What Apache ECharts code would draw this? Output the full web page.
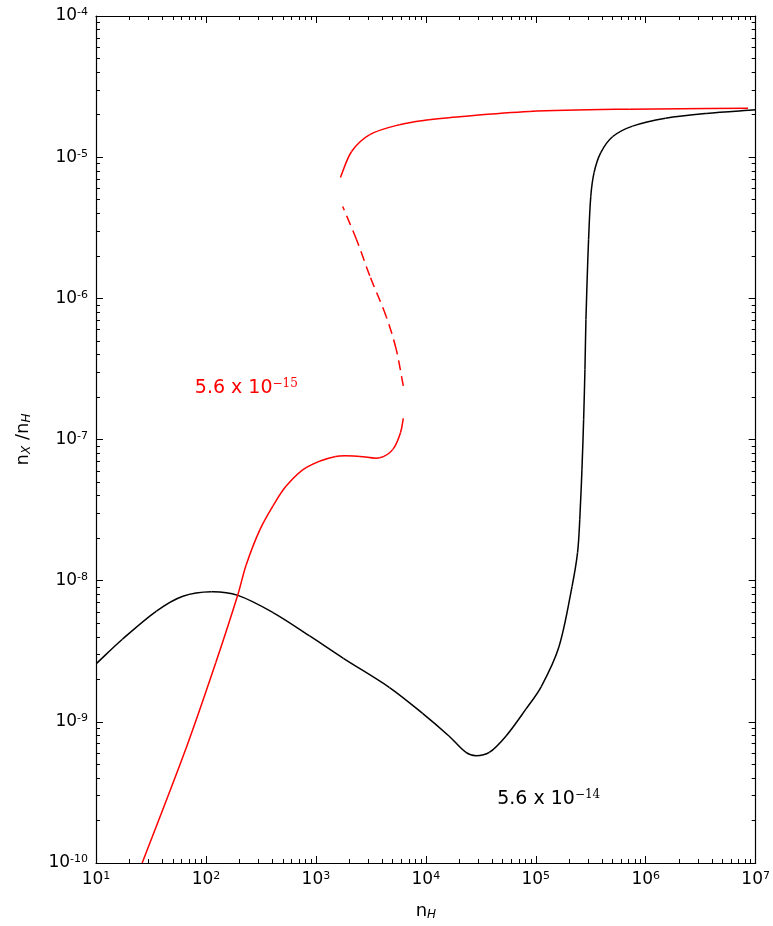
<!DOCTYPE html>
<html><head><meta charset="utf-8">
<script src="https://cdn.jsdelivr.net/npm/echarts@6/dist/echarts.min.js"></script>
<style>html,body{margin:0;padding:0;background:#fff}#c{width:773px;height:926px}</style>
</head><body><div id="c"></div>
<script>
// Tick label exponents
const xTickExps = ['1','2','3','4','5','6','7'];
const yTickExps = ['-10','-9','-8','-7','-6','-5','-4'];

// Black curve (5.6 x 10^-14)
const blackX = [1.0e1, 1.738e1, 3.548e1, 6.166e1, 1.122e2, 1.950e2, 4.074e2, 8.710e2, 1.778e3, 4.677e3, 9.333e3, 1.622e4, 2.317e4, 2.858e4, 3.776e4, 5.370e4, 8.128e4, 1.122e5, 1.622e5, 2.138e5, 2.399e5, 2.512e5, 2.630e5, 2.723e5, 2.799e5, 2.858e5, 2.951e5, 3.020e5, 3.162e5, 3.388e5, 3.890e5, 5.012e5, 7.586e5, 1.514e6, 3.548e6, 1.0e7];
const blackY = [2.570e-9, 3.846e-9, 6.095e-9, 7.762e-9, 8.356e-9, 7.870e-9, 5.943e-9, 4.074e-9, 2.818e-9, 1.750e-9, 1.148e-9, 7.943e-10, 6.067e-10, 5.754e-10, 6.067e-10, 7.943e-10, 1.230e-9, 1.778e-9, 3.388e-9, 9.120e-9, 1.585e-8, 2.716e-8, 6.166e-8, 1.380e-7, 3.126e-7, 7.079e-7, 1.585e-6, 2.600e-6, 5.248e-6, 7.762e-6, 1.072e-5, 1.400e-5, 1.660e-5, 1.888e-5, 2.042e-5, 2.163e-5];

// Red curve (5.6 x 10^-15): lower solid branch
const redLowX = [2.630e1, 6.607e1, 1.230e2, 1.950e2, 2.317e2, 3.090e2, 4.074e2, 5.370e2, 8.128e2, 1.514e3, 2.512e3, 3.802e3, 5.012e3, 5.888e3, 6.237e3];
const redLowY = [1.0e-10, 6.52e-10, 2.630e-9, 7.943e-9, 1.288e-8, 2.291e-8, 3.388e-8, 4.677e-8, 6.310e-8, 7.586e-8, 7.586e-8, 7.413e-8, 8.511e-8, 1.122e-7, 1.413e-7];
// dashed (unstable) branch
const redDashX = [6.237e3, 5.370e3, 4.365e3, 3.090e3, 2.344e3, 1.754e3];
const redDashY = [2.399e-7, 4.365e-7, 7.413e-7, 1.445e-6, 2.600e-6, 4.467e-6];
// upper solid branch
const redUpX = [1.671e3, 2.113e3, 3.090e3, 5.754e3, 1.072e4, 1.622e4, 8.710e4, 7.079e5, 8.511e6];
const redUpY = [7.178e-6, 1.096e-5, 1.445e-5, 1.698e-5, 1.841e-5, 1.905e-5, 2.104e-5, 2.188e-5, 2.223e-5];

// Annotations
const redLabel = {x: 2.33e2, y: 2.33e-7, base: '5.6 x 10', exp: '\u221215'};
const blackLabel = {x: 1.31e5, y: 2.84e-10, base: '5.6 x 10', exp: '\u221214'};

const zip = (xs, ys) => xs.map((v, i) => [v, ys[i]]);
const FONT = 'DejaVu Sans';

const tickRich = {
  b: {fontFamily: FONT, fontSize: 17, color: '#000', lineHeight: 18},
  s: {fontFamily: FONT, fontSize: 11, color: '#000', lineHeight: 12, verticalAlign: 'top'}
};

function expOf(v) { return Math.round(Math.log10(v)); }
function xLabel(v) {
  const lab = xTickExps.find(t => +t === expOf(v));
  return lab === undefined ? '' : '{b|10}{s|' + lab + '}';
}
function yLabel(v) {
  const lab = yTickExps.find(t => +t === expOf(v));
  return lab === undefined ? '' : '{b|10}{s|' + lab + '}';
}

const axisLineStyle = {show: true, lineStyle: {color: '#000', width: 1.2}};
const tickCommon = {show: true, inside: true, length: 7, lineStyle: {color: '#000', width: 1}};
const minorCommon = {show: true, splitNumber: 9, length: 4, lineStyle: {color: '#000', width: 1}};

function annot(l, color) {
  return {
    symbol: 'circle', symbolSize: 0,
    data: [{coord: [l.x, l.y], value: 0}],
    label: {
      show: true, position: 'inside',
      formatter: '{b|' + l.base + '}{s|' + l.exp + '}',
      rich: {
        b: {fontFamily: FONT, fontSize: 19, color: color, lineHeight: 20},
        s: {fontFamily: 'DejaVu Serif', fontSize: 12, color: color, lineHeight: 13, verticalAlign: 'top'}
      }
    }
  };
}

// Smooth curve through the data points (chord-length Hermite spline), positioned by the chart's own axes via api.coord
function curveSeries(name, pts, color, dash) {
  return {
    name: name, type: 'custom', clip: true,
    data: pts,
    encode: {x: 0, y: 1},
    renderItem: function (params, api) {
      if (params.dataIndex !== 0) return null;
      const p = pts.map(d => api.coord(d));
      const n = p.length;
      const d = [];
      for (let i = 0; i < n - 1; i++) d.push(Math.hypot(p[i + 1][0] - p[i][0], p[i + 1][1] - p[i][1]) || 1e-6);
      const m = p.map((pt, i) => {
        if (i === 0) return [(p[1][0] - p[0][0]) / d[0], (p[1][1] - p[0][1]) / d[0]];
        if (i === n - 1) return [(p[i][0] - p[i - 1][0]) / d[i - 1], (p[i][1] - p[i - 1][1]) / d[i - 1]];
        const s = d[i - 1] + d[i];
        return [(p[i + 1][0] - p[i - 1][0]) / s, (p[i + 1][1] - p[i - 1][1]) / s];
      });
      const children = [];
      for (let i = 0; i < n - 1; i++) {
        const k = d[i] / 3;
        children.push({
          type: 'bezierCurve',
          shape: {
            x1: p[i][0], y1: p[i][1], x2: p[i + 1][0], y2: p[i + 1][1],
            cpx1: p[i][0] + m[i][0] * k, cpy1: p[i][1] + m[i][1] * k,
            cpx2: p[i + 1][0] - m[i + 1][0] * k, cpy2: p[i + 1][1] - m[i + 1][1] * k
          },
          style: {stroke: color, lineWidth: 1.5, fill: null, lineDash: dash || null, lineCap: 'butt'}
        });
      }
      return {type: 'group', children: children};
    }
  };
}

const option = {
  animation: false,
  backgroundColor: '#fff',
  grid: {left: 96, right: 17, top: 16, bottom: 62},
  xAxis: [{
    type: 'log', logBase: 10, min: 10, max: 1e7, interval: 1, splitNumber: 6,
    position: 'bottom',
    axisLine: axisLineStyle, axisTick: tickCommon, minorTick: minorCommon,
    splitLine: {show: false},
    axisLabel: {formatter: xLabel, rich: tickRich, margin: 8, showMinLabel: true, showMaxLabel: true},
    name: '{n|n}{sub|H}', nameLocation: 'middle', nameGap: 38,
    nameTextStyle: {rich: {
      n: {fontFamily: FONT, fontSize: 18, color: '#000', lineHeight: 20},
      sub: {fontFamily: FONT, fontSize: 12, fontStyle: 'italic', color: '#000', lineHeight: 12, verticalAlign: 'bottom'}
    }}
  }, {
    type: 'log', logBase: 10, min: 10, max: 1e7, interval: 1, splitNumber: 6,
    position: 'top',
    axisLine: axisLineStyle, axisTick: tickCommon, minorTick: minorCommon,
    splitLine: {show: false}, axisLabel: {show: false}
  }],
  yAxis: [{
    type: 'log', logBase: 10, min: 1e-10, max: 1e-4, interval: 1, splitNumber: 6,
    position: 'left',
    axisLine: axisLineStyle, axisTick: tickCommon, minorTick: minorCommon,
    splitLine: {show: false},
    axisLabel: {formatter: yLabel, rich: tickRich, margin: 8, showMinLabel: true, showMaxLabel: true},
    name: '{n|n}{sub|X}{n| /n}{sub|H}', nameLocation: 'middle', nameGap: 63, nameRotate: 90,
    nameTextStyle: {rich: {
      n: {fontFamily: FONT, fontSize: 18, color: '#000', lineHeight: 20},
      sub: {fontFamily: FONT, fontSize: 12, fontStyle: 'italic', color: '#000', lineHeight: 12, verticalAlign: 'bottom'}
    }}
  }, {
    type: 'log', logBase: 10, min: 1e-10, max: 1e-4, interval: 1, splitNumber: 6,
    position: 'right',
    axisLine: axisLineStyle, axisTick: tickCommon, minorTick: minorCommon,
    splitLine: {show: false}, axisLabel: {show: false}
  }],
  series: [
    curveSeries('black', zip(blackX, blackY), '#000000'),
    curveSeries('redLow', zip(redLowX, redLowY), '#ff0000'),
    curveSeries('redDash', zip(redDashX, redDashY), '#ff0000', [10, 6]),
    curveSeries('redUp', zip(redUpX, redUpY), '#ff0000'),
    {name: 'labels', type: 'line', data: [], markPoint: annot(blackLabel, '#000000')},
    {name: 'labels2', type: 'line', data: [], markPoint: annot(redLabel, '#ff0000')}
  ]
};

const chart = echarts.init(document.getElementById('c'));
chart.setOption(option);
</script>
</body></html>
